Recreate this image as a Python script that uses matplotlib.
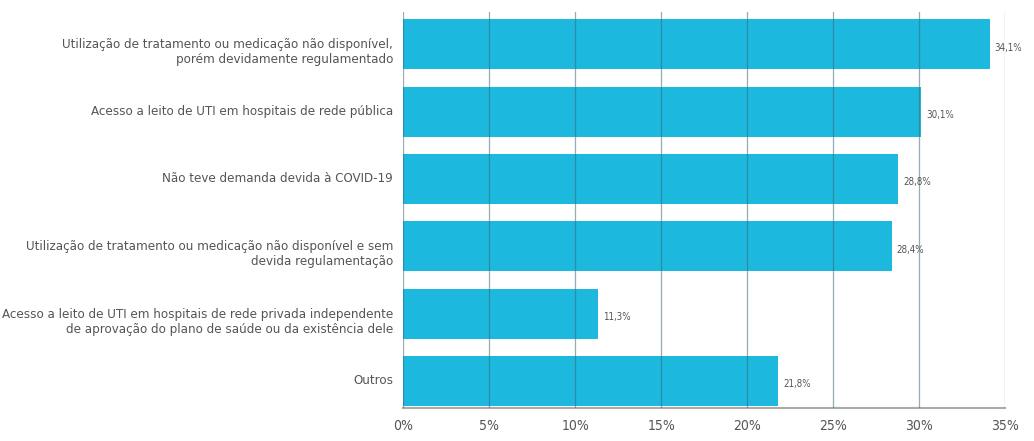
import matplotlib
matplotlib.use("Agg")
import matplotlib.pyplot as plt
from matplotlib import font_manager
from matplotlib.transforms import blended_transform_factory

# categorias e valores (%)
labels = [
    "Utilização de tratamento ou medicação não disponível,\nporém devidamente regulamentado",
    "Acesso a leito de UTI em hospitais de rede pública",
    "Não teve demanda devida à COVID-19",
    "Utilização de tratamento ou medicação não disponível e sem\ndevida regulamentação",
    "Acesso a leito de UTI em hospitais de rede privada independente\nde aprovação do plano de saúde ou da existência dele",
    "Outros",
]
values = [34.1, 30.1, 28.8, 28.4, 11.3, 21.8]
value_labels = ["34,1%", "30,1%", "28,8%", "28,4%", "11,3%", "21,8%"]
xticks = [0, 5, 10, 15, 20, 25, 30, 35]
xtick_labels = ["0%", "5%", "10%", "15%", "20%", "25%", "30%", "35%"]

# fonte condensada, se houver
cond = [f for f in font_manager.fontManager.ttflist
        if "condensed" in f.fname.lower() or "narrow" in f.fname.lower()]
cond = [f for f in cond if "bold" not in f.fname.lower() and "oblique" not in f.fname.lower()
        and "italic" not in f.fname.lower()]
if cond:
    fp = font_manager.FontProperties(fname=cond[0].fname)
    lab_size = 9.5
else:
    fp = font_manager.FontProperties(family="DejaVu Sans")
    lab_size = 8.3

txt = "#555555"
bar_c = "#1cb8de"

fig = plt.figure(figsize=(10.34, 4.41), dpi=100)
ax = fig.add_axes([0.39, 0.075, 0.582, 0.898])

ypos = list(range(len(values)))
ax.barh(ypos, values, height=0.74, color=bar_c, zorder=1)

for y, v, s in zip(ypos, values, value_labels):
    t = ax.text(v + 0.3, y + 0.05, s, va="center", ha="left", color=txt,
                fontproperties=fp.copy())
    t.set_size(7)

# rótulos das categorias (os de duas linhas começam no centro da barra)
trans = blended_transform_factory(ax.transAxes, ax.transData)
for y, lab in zip(ypos, labels):
    dy = 0.12 if "\n" in lab else 0.0
    t = ax.text(-0.017, y + dy, lab, transform=trans, ha="right", va="center",
                multialignment="right", color=txt, fontproperties=fp.copy())
    t.set_size(lab_size)

ax.set_xlim(0, 35)
ax.set_ylim(5.4, -0.48)
ax.set_xticks(xticks)
ax.set_xticklabels(xtick_labels, color=txt)
ax.set_yticks([])
for t in ax.get_xticklabels():
    t.set_fontproperties(fp)
    t.set_size(lab_size + 0.5)

ax.grid(axis="x", color="#3d6b78", linewidth=0.9, alpha=0.55, zorder=3)
ax.set_axisbelow(False)
ax.tick_params(axis="both", length=0, pad=8)
for side in ["top", "right", "left"]:
    ax.spines[side].set_visible(False)
ax.spines["bottom"].set_color("#aaaaaa")
ax.spines["bottom"].set_linewidth(1.5)

fig.savefig("out.png", dpi=100)
